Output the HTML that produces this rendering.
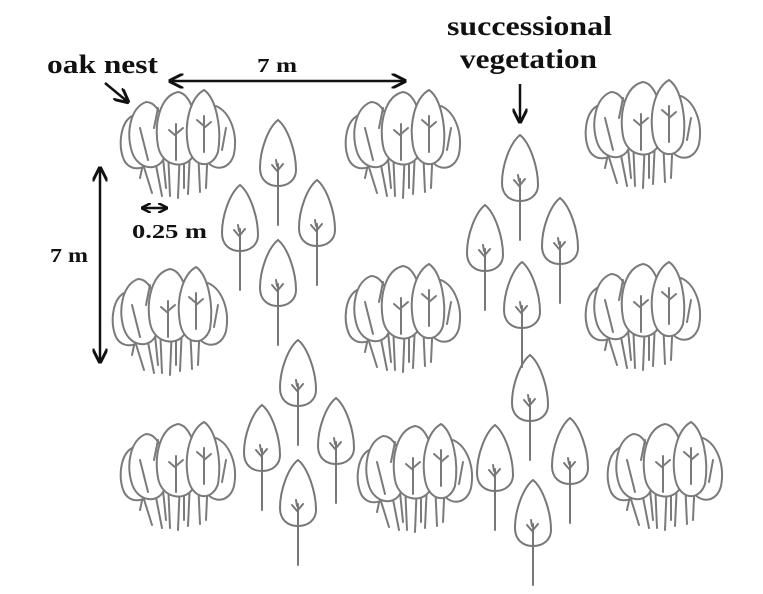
<!DOCTYPE html>
<html><head><meta charset="utf-8"><style>
html,body{margin:0;padding:0;background:#fff;}
svg{display:block;}
text{font-family:"Liberation Serif",serif;fill:#111;font-weight:bold;}
</style></head><body>
<svg width="763" height="594" viewBox="0 0 763 594" xmlns="http://www.w3.org/2000/svg">
<defs>
<marker id="ah" viewBox="0 0 10 10" refX="9" refY="5" markerWidth="6" markerHeight="6" orient="auto-start-reverse"><path d="M0,0 L10,5 L0,10" fill="none" stroke="#111" stroke-width="2"/></marker>
<marker id="ahs" viewBox="0 0 10 10" refX="9" refY="5" markerWidth="4" markerHeight="4" orient="auto-start-reverse"><path d="M0,0 L10,5 L0,10" fill="none" stroke="#111" stroke-width="2.5"/></marker>
<g id="tree" fill="none" stroke="#777" stroke-width="2" stroke-linecap="round">
<path d="M18,0 C8,8 0,30 0,48 C0,60 8,66 18,66 C28,66 36,60 36,50 C36,32 28,8 18,0 Z"/>
<path d="M18,44 L18,105 M18,52 L12,45 M18,50 L23,44 M17,46 L16,40"/>
</g>
<g id="nest" fill="none" stroke="#7a7a7a" stroke-width="2" stroke-linecap="round">
<path d="M20,60 L34,105 M35,62 L44,108 M50,62 L52,108 M62,60 L60,110 M72,62 L70,106 M80,60 L82,104 M90,55 L88,100 M28,62 L22,90 M45,70 L48,100 M66,70 L66,100"/>
<path d="M14,28 C2,35 0,58 6,72 C12,84 28,82 32,72 C34,50 28,28 14,28 Z" fill="#fff"/>
<path d="M28,14 C12,20 8,45 14,64 C20,82 40,84 46,70 C50,45 44,14 28,14 Z" fill="#fff"/>
<path d="M98,18 C112,24 120,45 116,66 C112,82 96,84 88,72 C84,50 88,26 98,18 Z" fill="#fff"/>
<path d="M60,4 C42,8 36,35 40,58 C44,80 70,82 76,66 C82,42 76,6 60,4 Z" fill="#fff"/>
<path d="M86,2 C72,10 66,35 70,58 C74,80 94,82 100,64 C104,40 98,10 86,2 Z" fill="#fff"/>
<path d="M22,40 L30,72 M58,36 L58,72 M58,48 L51,42 M58,46 L65,40 M86,28 L86,64 M86,38 L79,32 M86,40 L93,34 M40,20 L36,40 M108,40 L104,62"/>
</g>
</defs>

<text x="47" y="73" font-size="26" textLength="111" lengthAdjust="spacingAndGlyphs">oak nest</text>
<text x="447" y="35" font-size="27" textLength="165" lengthAdjust="spacingAndGlyphs">successional</text>
<text x="460" y="68" font-size="27" textLength="137" lengthAdjust="spacingAndGlyphs">vegetation</text>
<text x="257" y="72" font-size="20" textLength="40" lengthAdjust="spacingAndGlyphs">7 m</text>
<text x="50" y="262" font-size="20" textLength="38" lengthAdjust="spacingAndGlyphs">7 m</text>
<text x="132" y="238" font-size="20" textLength="75" lengthAdjust="spacingAndGlyphs">0.25 m</text>

<g stroke="#111" stroke-width="2.5" fill="none">
<line x1="170" y1="81" x2="405" y2="81" marker-start="url(#ah)" marker-end="url(#ah)"/>
<line x1="100" y1="168" x2="100" y2="362" marker-start="url(#ah)" marker-end="url(#ah)"/>
<line x1="142" y1="208" x2="167" y2="208" marker-start="url(#ahs)" marker-end="url(#ahs)"/>
<line x1="105" y1="83" x2="128" y2="102" marker-end="url(#ah)"/>
<line x1="520" y1="84" x2="520" y2="122" marker-end="url(#ah)"/>
</g>

<use href="#nest" x="118" y="88"/>
<use href="#nest" x="343" y="88"/>
<use href="#nest" x="583" y="78"/>
<use href="#nest" x="110" y="265"/>
<use href="#nest" x="343" y="262"/>
<use href="#nest" x="583" y="260"/>
<use href="#nest" x="118" y="420"/>
<use href="#nest" x="355" y="422"/>
<use href="#nest" x="605" y="420"/>

<use href="#tree" x="260" y="120"/>
<use href="#tree" x="222" y="185"/>
<use href="#tree" x="299" y="180"/>
<use href="#tree" x="260" y="240"/>
<use href="#tree" x="280" y="340"/>
<use href="#tree" x="244" y="405"/>
<use href="#tree" x="318" y="398"/>
<use href="#tree" x="280" y="460"/>
<use href="#tree" x="502" y="135"/>
<use href="#tree" x="467" y="205"/>
<use href="#tree" x="542" y="198"/>
<use href="#tree" x="504" y="262"/>
<use href="#tree" x="512" y="355"/>
<use href="#tree" x="477" y="425"/>
<use href="#tree" x="552" y="418"/>
<use href="#tree" x="515" y="480"/>
</svg>
</body></html>
